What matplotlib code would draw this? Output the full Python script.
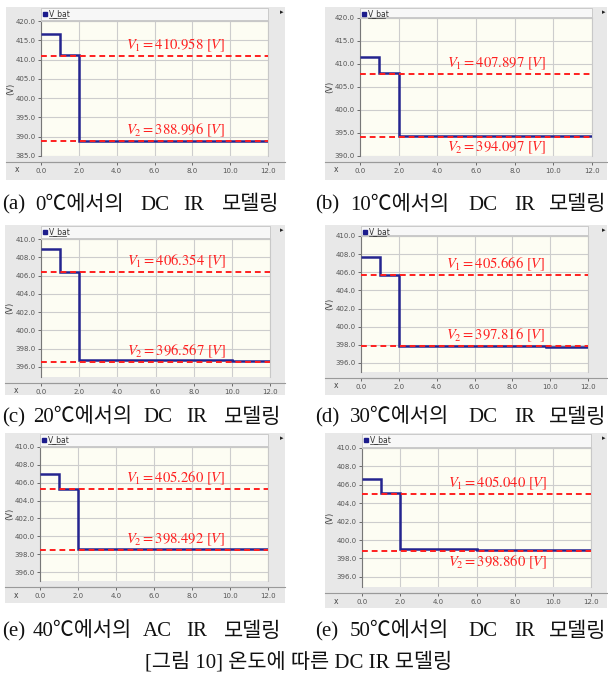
import matplotlib.pyplot as plt
from matplotlib.lines import Line2D
from matplotlib.patches import Rectangle

plt.rcParams['mathtext.fontset'] = 'stix'

W, H = 608, 679

# data
letters = ['a', 'b', 'c', 'd', 'e', 'e']
temps = ['0', '10', '20', '30', '40', '50']
modes = ['DC', 'DC', 'DC', 'DC', 'AC', 'DC']
t_edges = [[0, 1, 2, 12],
           [0, 1, 2, 12],
           [0, 1, 2, 10, 12],
           [0, 1, 2, 9.8, 12],
           [0, 1, 2, 5, 12],
           [0, 1, 2, 6, 12]]
v_bat = [[416.7, 411.1, 389.0],
         [411.6, 408.1, 394.3],
         [408.9, 406.4, 396.8, 396.7],
         [407.7, 405.7, 397.9, 397.8],
         [407.0, 405.3, 398.6, 398.55],
         [406.6, 405.1, 399.0, 398.9]]
v1 = [410.958, 407.897, 406.354, 405.666, 405.260, 405.040]
v2 = [388.996, 394.097, 396.567, 397.816, 398.492, 398.860]
x_ticks = [0, 2, 4, 6, 8, 10, 12]
y_ticks = [[385, 390, 395, 400, 405, 410, 415, 420],
           [390, 395, 400, 405, 410, 415, 420],
           [396, 398, 400, 402, 404, 406, 408, 410],
           [396, 398, 400, 402, 404, 406, 408, 410],
           [396, 398, 400, 402, 404, 406, 408, 410],
           [396, 398, 400, 402, 404, 406, 408, 410]]
y_lims = [(385, 420), (390, 420), (394.9, 410), (395, 410), (395, 410), (394.9, 410)]
fig_caption = '[그림 10] 온도에 따른 DC IR 모델링'

# pixel layout: frame box, plot box, x-axis line y, caption y, v2 label below?
frames = [(6, 7, 285, 180), (325, 7, 607, 180),
          (5, 225, 285, 395), (325, 225, 607, 395),
          (5, 433, 285, 603), (325, 433, 607, 608)]
plots = [(41, 21, 268, 156), (360, 18, 592, 156),
         (41, 239, 270, 377), (361, 236, 588, 372),
         (40, 447, 268, 581), (362, 448, 591, 587)]
axis_y = [162, 162, 383, 378, 587, 593]
cap_y = [205, 205, 418, 418, 632, 632]
below = [False, True, False, False, False, True]
cap_x = [[2, 35, 140, 183, 222],
         [315, 350, 468, 514, 549],
         [2, 33, 143, 186, 224],
         [315, 350, 468, 514, 549],
         [2, 33, 143, 186, 224],
         [315, 350, 468, 514, 549]]

cap_font = ['Liberation Serif', 'Noto Sans CJK KR']


def fx(x):
    return x / W


def fy(y):
    return 1 - y / H


fig = plt.figure(figsize=(6.08, 6.79), dpi=100)

for i in range(6):
    fx0, fy0, fx1, fy1 = frames[i]
    px0, py0, px1, py1 = plots[i]

    # grey frame behind the plot
    fig.add_artist(Rectangle((fx(fx0), fy(fy1)), (fx1 - fx0) / W, (fy1 - fy0) / H,
                             transform=fig.transFigure, facecolor='#e8e8e8',
                             edgecolor='none', zorder=-2))
    # legend strip
    fig.add_artist(Rectangle((fx(px0), fy(py0 - 1)), (px1 - px0) / W, (py0 - fy0 - 2) / H,
                             transform=fig.transFigure, facecolor='#f7f7f7',
                             edgecolor='#c4c4c4', lw=0.6, zorder=-1))
    fig.add_artist(Line2D([fx(px0 + 4)], [fy(fy0 + 7)], marker='s', ms=2.6,
                          color='#1c1c8c', transform=fig.transFigure))
    fig.text(fx(px0 + 8), fy(fy0 + 7), 'V_bat', fontsize=5.5, color='#333333',
             va='center', ha='left')
    fig.add_artist(Line2D([fx(px0 + 8), fx(px0 + 25)], [fy(fy0 + 11)] * 2,
                          color='#333333', lw=0.5, transform=fig.transFigure))
    fig.text(fx(fx1 - 3), fy(fy0 + 5), '▸', fontsize=5, color='#222222',
             va='center', ha='center')
    # x-axis line across the frame
    fig.add_artist(Line2D([fx(fx0), fx(fx1)], [fy(axis_y[i])] * 2,
                          color='#9a9a9a', lw=0.8, transform=fig.transFigure, zorder=-1))
    fig.text(fx(fx0 + 11), fy(axis_y[i] + 8), 'x', fontsize=5.5, color='#444444',
             va='center', ha='center')
    fig.text(fx(fx0 + 5), fy((py0 + py1) / 2), '(V)', fontsize=6, color='#444444',
             rotation=90, va='center', ha='center')

    ax = fig.add_axes([fx(px0), fy(py1), (px1 - px0) / W, (py1 - py0) / H])
    ax.set_facecolor('#fdfdf3')
    ax.stairs(v_bat[i], t_edges[i], baseline=None, color='#24248f', lw=1.8, zorder=3)
    for v in (v1[i], v2[i]):
        ax.axhline(v, color='#ff1f1f', lw=1.4, ls=(0, (3, 2)), zorder=4)

    ax.annotate(f'$V_1 = {v1[i]:.3f}\\ [V]$', xy=(4.5, v1[i]), xytext=(0, 1.5),
                textcoords='offset points', color='#ff1f1f', fontsize=10.5,
                ha='left', va='bottom')
    if below[i]:
        ax.annotate(f'$V_2 = {v2[i]:.3f}\\ [V]$', xy=(4.5, v2[i]), xytext=(0, -2),
                    textcoords='offset points', color='#ff1f1f', fontsize=10.5,
                    ha='left', va='top')
    else:
        ax.annotate(f'$V_2 = {v2[i]:.3f}\\ [V]$', xy=(4.5, v2[i]), xytext=(0, 1.5),
                    textcoords='offset points', color='#ff1f1f', fontsize=10.5,
                    ha='left', va='bottom')

    ax.set_xlim(0, 12)
    ax.set_ylim(y_lims[i])
    ax.set_xticks(x_ticks)
    ax.set_xticklabels([f'{t:.1f}' for t in x_ticks])
    ax.set_yticks(y_ticks[i])
    ax.set_yticklabels([f'{t:.1f}' for t in y_ticks[i]])
    ax.grid(color='#cdcdcd', lw=0.8)
    ax.set_axisbelow(True)
    ax.tick_params(labelsize=5, colors='#555555', length=2, width=0.6, pad=2)
    ax.spines['left'].set_color('#777777')
    ax.spines['top'].set_color('#c8c8c8')
    ax.spines['right'].set_color('#c8c8c8')
    ax.spines['bottom'].set_position(('outward', (axis_y[i] - py1) * 0.72))
    ax.spines['bottom'].set_color('#9a9a9a')

    # caption under the panel
    pieces = [f'({letters[i]})', f'{temps[i]}℃에서의', modes[i], 'IR', '모델링']
    for xp, s in zip(cap_x[i], pieces):
        fig.text(fx(xp), fy(cap_y[i]), s, fontsize=15, family=cap_font,
                 va='center', ha='left', color='#111111')

fig.text(fx(299), fy(662), fig_caption, fontsize=15, family=cap_font,
         va='center', ha='center', color='#111111')

fig.savefig('out.png', dpi=100, facecolor='white')
